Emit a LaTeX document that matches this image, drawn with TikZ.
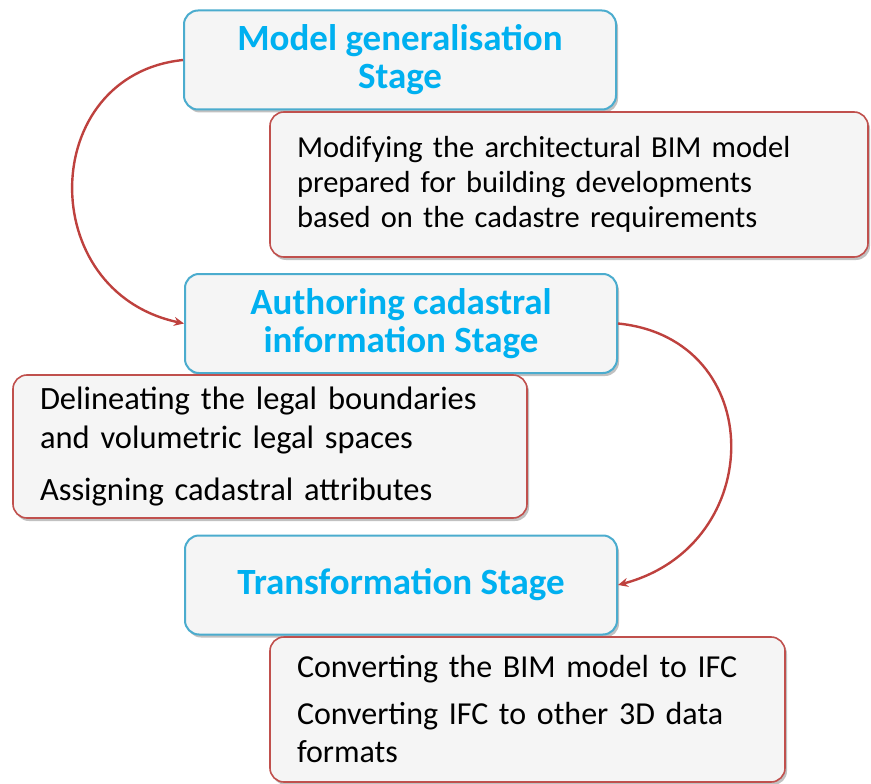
\documentclass[tikz,border=0pt]{standalone}
\usepackage{fontspec}
\setmainfont{Carlito}
\usetikzlibrary{shadows,arrows.meta}
\definecolor{stageblue}{RGB}{0,176,240}
\definecolor{stageborder}{RGB}{75,172,206}
\definecolor{redborder}{RGB}{192,80,77}
\definecolor{arrowred}{RGB}{190,65,62}
\definecolor{boxfill}{RGB}{245,245,245}
\tikzset{
  boxshadow/.style={drop shadow={shadow xshift=2pt,shadow yshift=-3pt,opacity=0.35,fill=black!70}},
  stagebox/.style={draw=stageborder,line width=2pt,fill=boxfill,rounded corners=14pt,boxshadow,
    minimum width=432pt,minimum height=99pt,align=center,text=stageblue,
    font=\fontsize{37}{38}\selectfont\bfseries,inner sep=0pt},
  infobox/.style={draw=redborder,line width=1.6pt,fill=boxfill,rounded corners=14pt,boxshadow,
    align=left,text=black,inner xsep=27pt,inner ysep=0pt},
  flow/.style={draw=arrowred,line width=2.4pt,-{Stealth[length=10pt,width=9pt]}}
}
\begin{document}
\begin{tikzpicture}[x=1pt,y=1pt]
\useasboundingbox (0,0) rectangle (871,-784);
\node[stagebox] (s1) at (400,-60) {Model generalisation\\Stage};
\node[infobox,minimum width=598pt,minimum height=145pt,text width=544pt,
  font=\fontsize{30.5}{35}\selectfont] (d1) at (569,-184.5)
  {Modifying the architectural BIM model\\prepared for building developments\\based on the cadastre requirements};
\node[stagebox] (s2) at (401,-323.5) {Authoring cadastral\\information Stage};
\node[infobox,minimum width=514pt,minimum height=143pt,text width=460pt,
  font=\fontsize{32.5}{39}\selectfont] (d2) at (270,-446.5)
  {Delineating the legal boundaries\\and volumetric legal spaces\\[13pt]Assigning cadastral attributes};
\node[stagebox] (s3) at (401,-585) {Transformation Stage};
\node[infobox,minimum width=515pt,minimum height=145pt,text width=461pt,
  font=\fontsize{32}{38}\selectfont] (d3) at (527.5,-709.5)
  {Converting the BIM model to IFC\\[9pt]Converting IFC to other 3D data\\formats};
\draw[flow] (s1.west) .. controls +(-145,-15) and +(-150,32) .. (s2.west);
\draw[flow] (s2.east) .. controls +(150,-15) and +(150,40) .. (s3.east);
\end{tikzpicture}
\end{document}
